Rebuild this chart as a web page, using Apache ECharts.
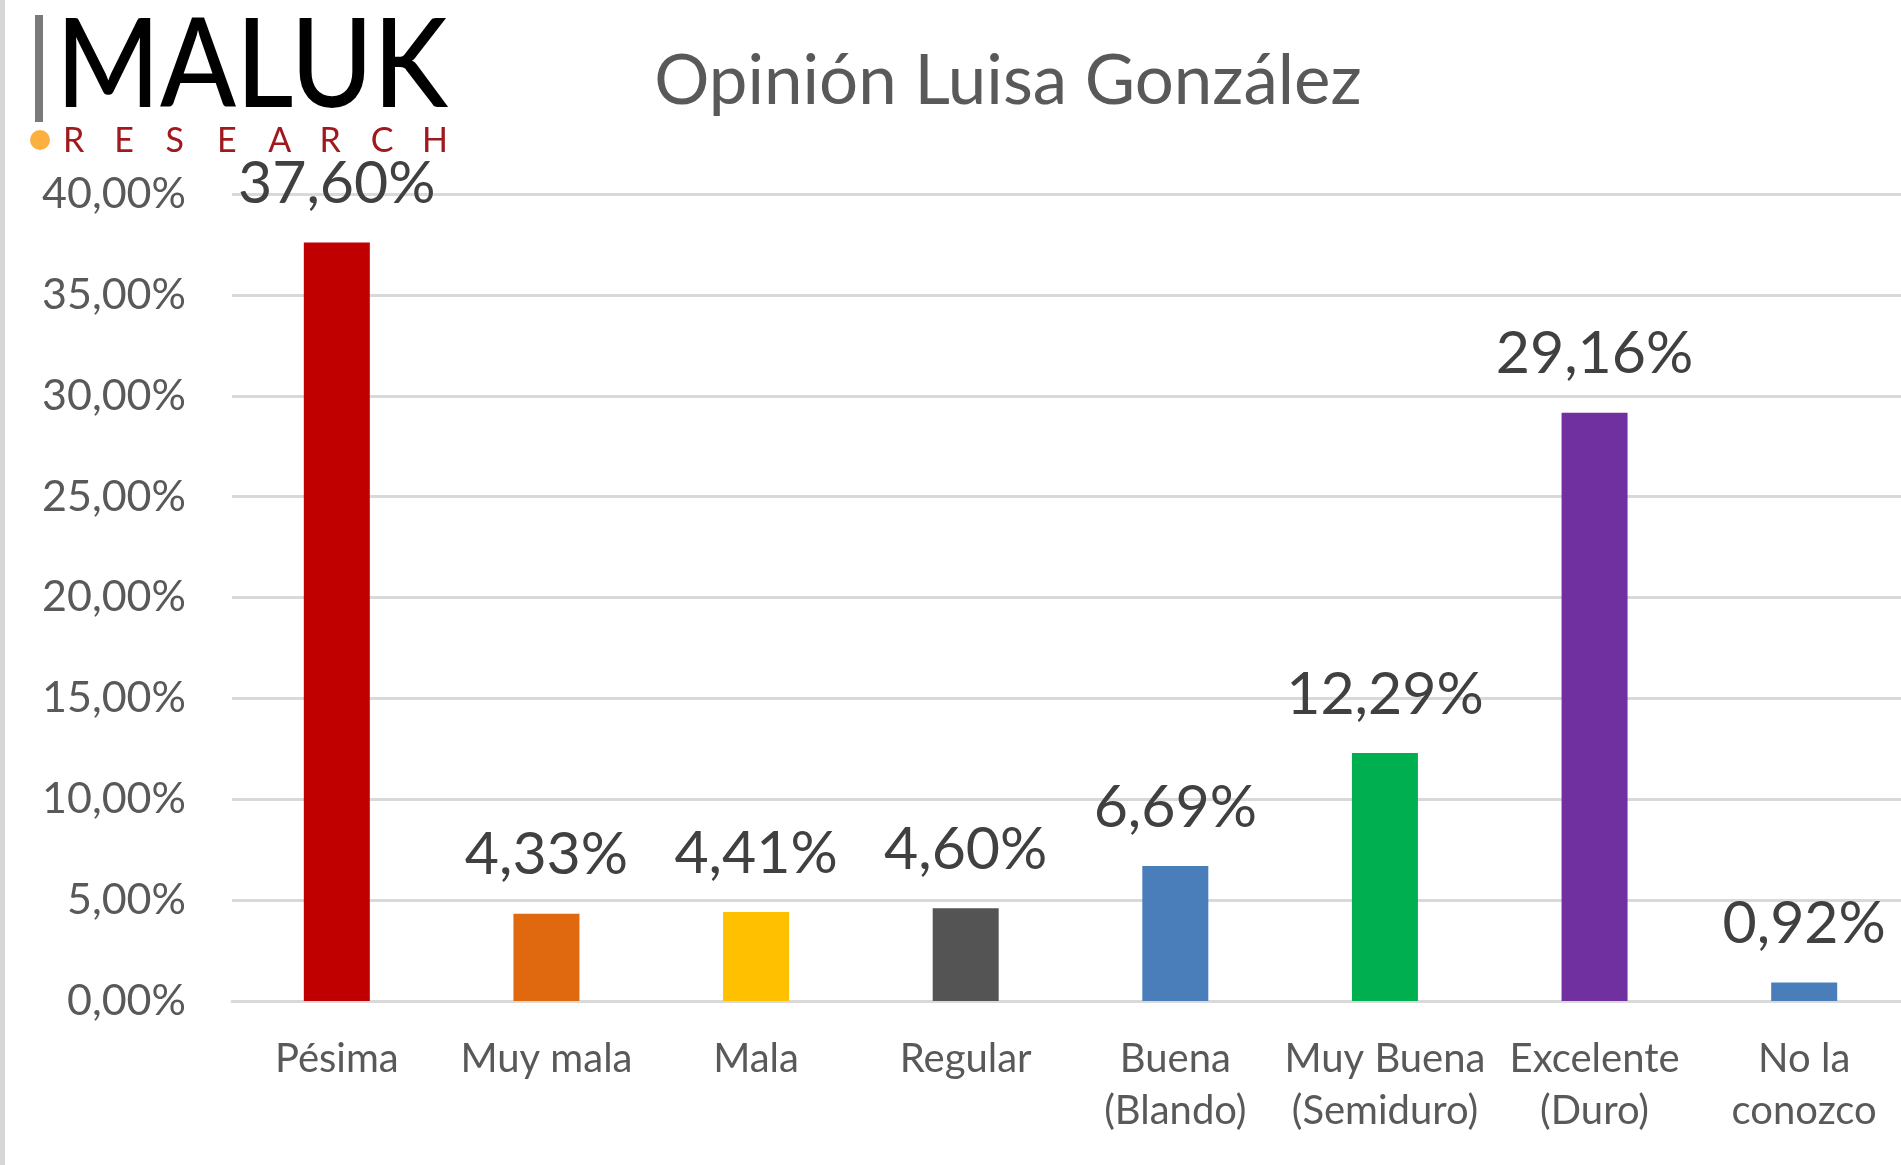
<!DOCTYPE html>
<html>
<head>
<meta charset="utf-8">
<script src="https://cdn.jsdelivr.net/npm/echarts@6/dist/echarts.min.js"></script>
<style>
  html, body { margin: 0; padding: 0; background: #fff; overflow: hidden; }
  /* the plot runs a few pixels past the right edge of the window */
  #chart { width: 1914px; height: 1165px; }
</style>
</head>
<body>
<div id="chart"></div>
<script>
// Survey categories and shares (%)
const categories = ['Pésima', 'Muy mala', 'Mala', 'Regular', 'Buena\n(Blando)', 'Muy Buena\n(Semiduro)', 'Excelente\n(Duro)', 'No la\nconozco'];
const values = [37.60, 4.33, 4.41, 4.60, 6.69, 12.29, 29.16, 0.92];
const barColors = ['#C00000', '#E0690F', '#FFC000', '#545454', '#4A7EBB', '#00B050', '#7030A0', '#4A7EBB'];
const titleText = 'Opinión Luisa González';

const fmt = v => v.toFixed(2).replace('.', ',') + '%';
const font = 'Lato, "Open Sans", sans-serif';

const researchLetters = 'RESEARCH'.split('');
const logoGraphics = [
  { type: 'rect', left: 0, top: 0, shape: { width: 5, height: 1165 }, style: { fill: '#d6d6d6' } },
  { type: 'rect', left: 35, top: 15, shape: { width: 8, height: 107 }, style: { fill: '#7a7a7a' } },
  { type: 'text', left: 56, top: 5, scaleX: 0.9, style: { text: 'MALUK', font: '500 124px ' + font, fill: '#000' } },
  { type: 'circle', shape: { cx: 40, cy: 140, r: 10 }, style: { fill: '#FBB040' } }
].concat(researchLetters.map((ch, i) => ({
  type: 'text', left: 63 + i * 51.3, top: 124,
  style: { text: ch, font: '400 34px ' + font, fill: '#A0191E' }
})));

const chart = echarts.init(document.getElementById('chart'));
chart.setOption({
  animation: false,
  title: {
    text: titleText,
    left: 1003, top: 42, textAlign: 'center',
    textStyle: { fontFamily: font, fontSize: 69, fontWeight: 'normal', color: '#595959' }
  },
  graphic: logoGraphics,
  grid: { left: 232, top: 194, width: 1677, height: 807, containLabel: false },
  xAxis: {
    type: 'category',
    data: categories,
    axisLine: { show: true, lineStyle: { color: '#d9d9d9', width: 3 } },
    axisTick: { show: false },
    axisLabel: {
      interval: 0, margin: 32, color: '#595959',
      fontFamily: font, fontSize: 40, lineHeight: 52
    }
  },
  yAxis: {
    type: 'value', min: 0, max: 40, interval: 5,
    axisLine: { show: false }, axisTick: { show: false },
    splitLine: { lineStyle: { color: '#d9d9d9', width: 3 } },
    axisLabel: {
      margin: 46, color: '#595959', fontFamily: font, fontSize: 43,
      formatter: v => fmt(v)
    }
  },
  series: [{
    type: 'bar',
    data: values.map((v, i) => ({ value: v, itemStyle: { color: barColors[i] } })),
    barWidth: 66,
    label: {
      show: true, position: 'top', distance: 29,
      color: '#404040', fontFamily: font, fontSize: 59,
      formatter: p => fmt(p.value)
    }
  }]
});
</script>
</body>
</html>
